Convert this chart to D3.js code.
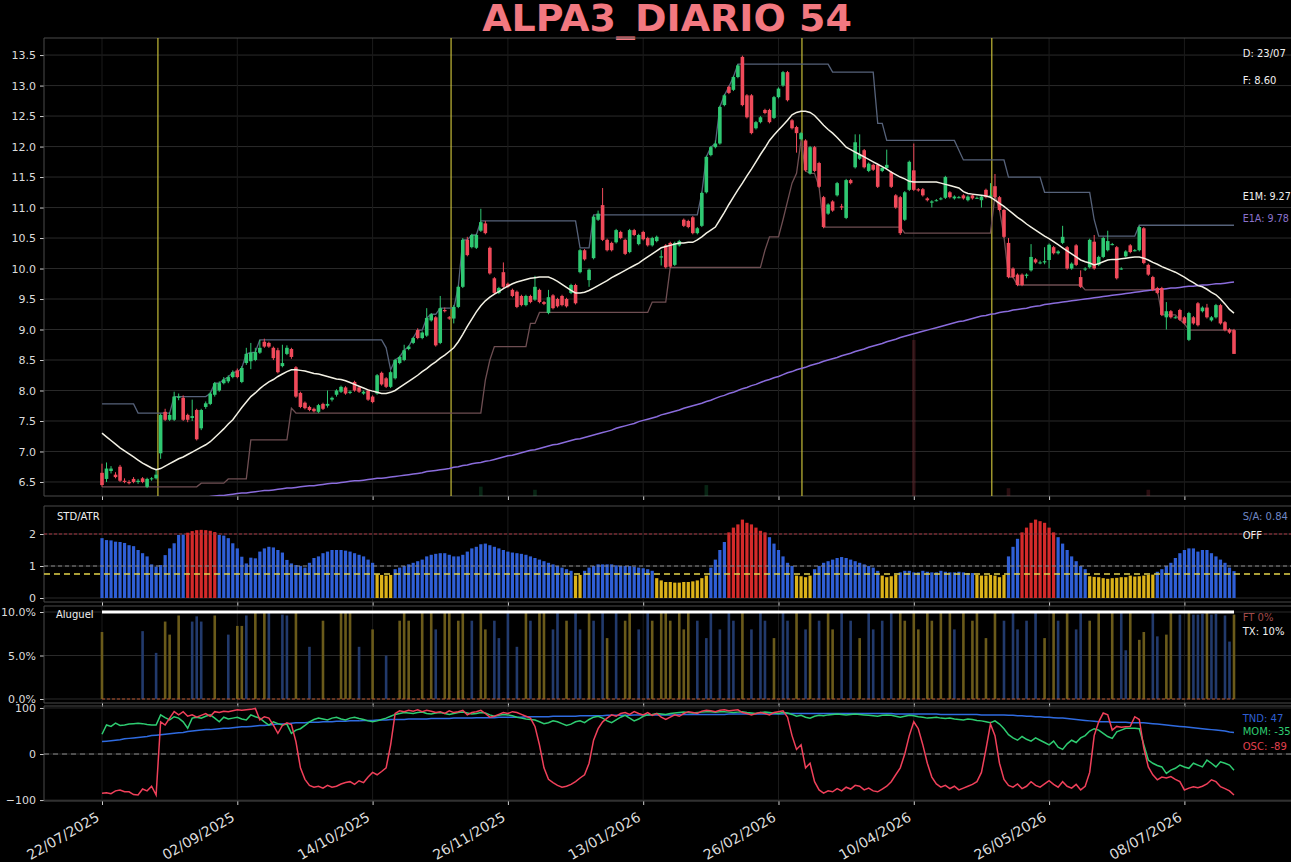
<!DOCTYPE html>
<html>
<head>
<meta charset="utf-8">
<script src="https://cdn.jsdelivr.net/npm/d3@7"></script>
<style>
  body { margin: 0; background: #000; }
  svg { display: block; font-family: "DejaVu Sans", sans-serif; }
</style>
</head>
<body>
<svg id="chart"></svg>
<script>
const width = 1291;
const height = 862;

// ---------- data ----------
const titulo = "ALPA3_DIARIO 54";
const tickIdx = [0, 30, 60, 90, 120, 150, 180, 210, 240];
const tickDatas = ["22/07/2025", "02/09/2025", "14/10/2025", "26/11/2025", "13/01/2026",
                   "26/02/2026", "10/04/2026", "26/05/2026", "08/07/2026"];
const eventos = [12.4, 77.4, 155.2, 197.3];

const opens = [
  6.65,6.55,6.68,6.62,6.75,6.52,6.50,6.55,6.50,6.56,
  6.42,6.55,6.56,6.97,7.65,7.52,7.52,7.88,7.88,7.60,
  7.55,7.68,7.38,7.73,7.78,7.93,8.00,8.12,8.15,8.22,
  8.33,8.14,8.45,8.48,8.50,8.62,8.80,8.78,8.70,8.66,
  8.40,8.60,8.68,8.38,7.96,7.80,7.73,7.70,7.65,7.78,
  7.75,7.85,7.93,7.98,8.05,7.96,8.14,8.05,7.95,8.00,
  7.90,7.95,8.29,8.20,8.06,8.20,8.45,8.50,8.68,8.78,
  8.99,8.86,8.90,9.15,9.20,8.78,9.32,9.20,9.18,9.37,
  9.70,10.47,10.35,10.34,10.62,10.74,10.34,9.84,9.60,9.94,
  9.75,9.65,9.62,9.55,9.40,9.55,9.49,9.65,9.45,9.27,
  9.56,9.50,9.55,9.50,9.60,9.73,9.94,10.30,9.81,10.17,
  10.80,11.04,10.47,10.42,10.43,10.60,10.47,10.27,10.63,10.40,
  10.60,10.50,10.38,10.45,10.18,10.38,10.42,10.06,10.38,10.80,
  10.78,10.84,10.58,10.70,11.25,11.86,11.99,12.05,12.68,12.98,
  12.93,13.14,13.47,12.84,12.84,12.30,12.40,12.60,12.60,12.47,
  12.81,13.00,13.22,12.43,12.32,12.12,12.10,11.56,11.99,11.73,
  11.17,10.90,11.10,11.20,11.02,10.83,11.45,11.66,11.80,11.94,
  11.60,11.70,11.70,11.60,11.65,11.58,11.20,11.17,10.80,11.29,
  11.61,11.30,11.30,11.15,11.08,11.12,11.14,11.16,11.25,11.15,
  11.17,11.20,11.12,11.20,11.15,11.12,11.29,11.18,11.35,11.17,
  10.96,10.42,10.00,9.90,9.90,9.88,9.97,10.15,10.10,10.10,
  10.14,10.35,10.25,10.42,10.35,10.00,10.38,9.86,10.00,10.02,
  10.44,10.06,10.19,10.30,10.40,10.35,10.00,10.20,10.38,10.30,
  10.30,10.66,10.06,9.86,9.68,9.68,9.20,9.30,9.20,9.32,
  9.20,8.83,9.20,9.43,9.30,9.36,9.15,9.20,9.40,9.12,
  9.00,8.99
];
const highs = [
  6.80,6.82,6.76,6.66,6.78,6.56,6.53,6.58,6.55,6.58,
  6.57,6.58,6.70,7.62,7.70,7.64,7.98,7.95,7.92,7.62,
  7.85,7.70,7.70,7.82,7.98,8.14,8.15,8.22,8.25,8.33,
  8.36,8.40,8.70,8.78,8.70,8.83,8.85,8.80,8.72,8.70,
  8.75,8.74,8.70,8.40,7.98,7.82,7.75,7.72,7.78,7.80,
  8.00,7.90,8.02,8.08,8.07,8.00,8.16,8.07,8.00,8.02,
  7.92,8.27,8.31,8.22,8.32,8.52,8.57,8.75,8.74,8.88,
  9.02,8.97,9.35,9.27,9.22,9.55,9.36,9.22,9.40,9.72,
  10.50,10.52,10.57,10.57,10.98,10.78,10.36,9.86,9.70,10.10,
  9.77,9.67,9.64,9.57,9.57,9.57,9.88,9.67,9.47,9.65,
  9.58,9.52,9.57,9.52,9.75,9.75,10.32,10.32,10.00,10.87,
  10.95,11.32,10.49,10.44,10.65,10.62,10.49,10.65,10.65,10.57,
  10.62,10.52,10.52,10.54,10.30,10.40,10.44,10.44,10.47,10.82,
  10.80,10.86,10.68,11.26,11.85,12.01,12.10,12.67,12.86,13.00,
  13.16,13.35,13.49,12.86,12.86,12.42,12.50,12.62,12.62,12.83,
  12.97,13.24,13.24,12.45,12.34,12.24,12.12,12.01,12.01,11.75,
  11.19,11.07,11.12,11.42,11.06,11.47,11.47,12.20,12.20,11.96,
  11.74,11.72,11.72,11.67,11.95,11.60,11.22,11.19,11.27,11.77,
  12.05,11.32,11.32,11.17,11.12,11.14,11.17,11.52,11.27,11.20,
  11.19,11.22,11.20,11.22,11.18,11.20,11.31,11.40,11.55,11.19,
  10.98,10.50,10.02,9.92,9.92,9.92,10.40,10.17,10.13,10.35,
  10.41,10.37,10.30,10.70,10.37,10.10,10.40,9.97,10.02,10.49,
  10.55,10.21,10.52,10.62,10.42,10.37,10.02,10.30,10.40,10.32,
  10.70,10.68,10.08,9.88,9.70,9.70,9.45,9.32,9.22,9.34,
  9.22,9.29,9.22,9.45,9.38,9.42,9.22,9.42,9.42,9.14,
  9.02,9.01
];
const lows = [
  6.42,6.50,6.64,6.56,6.50,6.48,6.46,6.48,6.47,6.48,
  6.40,6.52,6.54,6.88,7.50,7.50,7.50,7.84,7.50,7.48,
  7.50,7.18,7.35,7.70,7.76,7.90,7.98,8.10,8.12,8.20,
  8.20,8.12,8.42,8.35,8.48,8.60,8.70,8.70,8.50,8.28,
  8.38,8.58,8.52,7.88,7.71,7.69,7.66,7.64,7.63,7.68,
  7.72,7.82,7.90,7.96,7.93,7.94,7.98,7.96,7.93,7.83,
  7.79,7.93,8.08,8.04,8.04,8.18,8.43,8.48,8.66,8.76,
  8.84,8.84,8.88,9.13,8.72,8.76,9.28,9.16,9.10,9.35,
  9.68,10.20,10.33,10.32,10.60,10.56,9.90,9.58,9.58,9.68,
  9.68,9.53,9.35,9.38,9.38,9.43,9.47,9.43,9.40,9.25,
  9.33,9.36,9.38,9.36,9.58,9.41,9.92,10.13,9.70,10.15,
  10.78,10.45,10.28,10.28,10.41,10.48,10.22,10.25,10.53,10.38,
  10.46,10.36,10.36,10.43,10.05,10.00,10.01,10.04,10.36,10.68,
  10.66,10.56,10.56,10.68,11.23,11.84,11.97,12.03,12.66,12.86,
  12.91,13.12,12.66,12.46,12.20,12.28,12.38,12.53,12.38,12.45,
  12.79,12.98,12.74,12.28,11.90,12.10,11.59,11.54,11.58,11.32,
  10.66,10.88,10.93,11.18,10.96,10.81,11.38,11.64,11.78,11.64,
  11.58,11.60,11.32,11.58,11.63,11.32,10.98,10.55,10.78,11.27,
  11.27,11.26,11.18,11.10,11.00,11.10,11.12,11.14,11.15,11.13,
  11.15,11.13,11.10,11.13,11.14,11.00,11.15,11.15,11.15,10.94,
  10.50,9.84,9.84,9.71,9.71,9.84,9.95,10.08,10.07,10.07,
  10.00,10.23,10.23,10.40,9.98,9.98,10.04,9.68,9.96,10.00,
  9.98,10.04,10.17,10.28,10.38,9.82,9.98,10.18,10.25,10.28,
  10.28,10.07,9.88,9.63,9.58,9.22,9.00,9.18,9.18,9.14,
  9.08,8.81,9.08,9.05,9.28,9.18,9.13,9.18,9.08,8.97,
  8.93,8.60
];
const closes = [
  6.45,6.72,6.72,6.58,6.52,6.50,6.48,6.50,6.52,6.50,
  6.55,6.56,6.62,7.60,7.52,7.60,7.90,7.90,7.52,7.52,
  7.58,7.20,7.68,7.79,7.95,8.12,8.12,8.18,8.22,8.30,
  8.22,8.37,8.60,8.62,8.63,8.70,8.72,8.72,8.53,8.30,
  8.45,8.70,8.55,7.90,7.73,7.71,7.68,7.66,7.76,7.70,
  7.78,7.88,8.00,8.06,7.95,7.98,8.00,7.98,7.98,7.85,
  7.81,8.25,8.10,8.06,8.30,8.50,8.55,8.66,8.72,8.86,
  8.86,8.95,9.19,9.25,8.74,9.35,9.30,9.18,9.37,9.70,
  10.47,10.22,10.55,10.55,10.76,10.58,9.92,9.60,9.68,9.70,
  9.70,9.55,9.37,9.40,9.55,9.45,9.70,9.45,9.42,9.53,
  9.35,9.38,9.40,9.38,9.73,9.43,10.30,10.15,9.98,10.85,
  10.90,10.47,10.30,10.30,10.63,10.50,10.24,10.63,10.55,10.55,
  10.48,10.38,10.50,10.52,10.20,10.02,10.03,10.42,10.45,10.70,
  10.68,10.58,10.66,11.24,11.83,11.99,12.05,12.65,12.84,12.88,
  13.14,13.33,12.68,12.48,12.22,12.40,12.48,12.55,12.40,12.81,
  12.95,13.22,12.76,12.30,12.22,12.22,11.61,11.99,11.60,11.34,
  10.68,11.05,10.95,11.40,11.00,11.45,11.40,12.07,11.86,11.66,
  11.72,11.62,11.34,11.65,11.70,11.34,11.00,10.58,11.25,11.75,
  11.29,11.28,11.20,11.12,11.10,11.12,11.15,11.50,11.17,11.18,
  11.17,11.15,11.18,11.15,11.16,11.18,11.17,11.20,11.17,10.96,
  10.52,9.86,9.86,9.73,9.73,9.90,10.19,10.10,10.10,10.12,
  10.39,10.25,10.28,10.52,10.00,10.08,10.06,9.70,10.00,10.47,
  10.00,10.19,10.50,10.45,10.40,9.84,10.00,10.28,10.27,10.30,
  10.68,10.09,9.90,9.65,9.60,9.24,9.30,9.20,9.20,9.16,
  9.10,9.27,9.10,9.07,9.36,9.20,9.20,9.40,9.10,8.99,
  8.95,8.60
];

// E1M (white) and E1A (purple) moving averages
const e1m = [
  7.30,7.24,7.18,7.12,7.06,7.01,6.96,6.91,6.86,6.81,
  6.77,6.73,6.70,6.72,6.76,6.80,6.84,6.88,6.91,6.95,
  6.99,7.03,7.07,7.11,7.16,7.23,7.30,7.37,7.45,7.52,
  7.62,7.72,7.81,7.90,7.96,8.03,8.09,8.14,8.18,8.23,
  8.27,8.31,8.34,8.34,8.33,8.32,8.30,8.28,8.27,8.25,
  8.23,8.21,8.19,8.18,8.16,8.13,8.10,8.07,8.04,8.01,
  7.99,7.97,7.95,7.95,7.97,8.00,8.05,8.10,8.15,8.20,
  8.25,8.31,8.36,8.42,8.47,8.53,8.58,8.64,8.70,8.80,
  8.92,9.05,9.17,9.29,9.39,9.47,9.53,9.58,9.62,9.67,
  9.71,9.75,9.78,9.80,9.82,9.84,9.85,9.86,9.86,9.86,
  9.83,9.79,9.74,9.69,9.64,9.60,9.60,9.61,9.64,9.68,
  9.72,9.76,9.80,9.85,9.89,9.93,9.97,10.01,10.05,10.09,
  10.14,10.19,10.24,10.29,10.34,10.36,10.38,10.40,10.42,10.42,
  10.43,10.43,10.47,10.52,10.58,10.63,10.68,10.80,10.92,11.05,
  11.17,11.29,11.40,11.52,11.63,11.75,11.87,11.98,12.10,12.19,
  12.27,12.35,12.43,12.52,12.56,12.58,12.58,12.56,12.51,12.43,
  12.35,12.28,12.22,12.15,12.07,11.99,11.95,11.91,11.87,11.83,
  11.79,11.75,11.71,11.67,11.63,11.58,11.54,11.50,11.47,11.43,
  11.42,11.42,11.42,11.42,11.42,11.42,11.40,11.38,11.36,11.34,
  11.32,11.26,11.23,11.22,11.21,11.20,11.19,11.17,11.12,11.07,
  11.02,10.96,10.90,10.84,10.79,10.73,10.68,10.63,10.58,10.53,
  10.49,10.44,10.39,10.34,10.29,10.24,10.19,10.14,10.11,10.09,
  10.06,10.08,10.11,10.14,10.15,10.15,10.16,10.17,10.18,10.19,
  10.19,10.17,10.14,10.10,10.07,10.03,10.00,9.97,9.94,9.90,
  9.86,9.81,9.77,9.72,9.70,9.66,9.61,9.57,9.50,9.42,
  9.33,9.27
];
const e1a = [
  6.08,6.09,6.09,6.10,6.11,6.12,6.12,6.13,6.14,6.15,
  6.16,6.16,6.17,6.18,6.18,6.19,6.20,6.21,6.21,6.22,
  6.23,6.24,6.24,6.25,6.26,6.27,6.28,6.28,6.29,6.30,
  6.31,6.32,6.32,6.33,6.34,6.35,6.36,6.36,6.37,6.38,
  6.39,6.40,6.40,6.41,6.42,6.43,6.44,6.44,6.45,6.46,
  6.47,6.48,6.48,6.49,6.50,6.51,6.52,6.52,6.53,6.54,
  6.55,6.56,6.56,6.57,6.58,6.59,6.60,6.61,6.62,6.63,
  6.64,6.65,6.67,6.68,6.69,6.70,6.71,6.72,6.74,6.75,
  6.77,6.78,6.80,6.81,6.82,6.84,6.85,6.87,6.89,6.91,
  6.93,6.94,6.96,6.98,7.00,7.02,7.03,7.05,7.07,7.09,
  7.11,7.12,7.14,7.16,7.18,7.20,7.21,7.23,7.25,7.27,
  7.29,7.31,7.33,7.35,7.38,7.40,7.42,7.44,7.46,7.49,
  7.51,7.53,7.55,7.57,7.60,7.62,7.64,7.66,7.68,7.71,
  7.73,7.75,7.77,7.79,7.82,7.84,7.87,7.90,7.92,7.95,
  7.97,8.00,8.03,8.05,8.08,8.10,8.13,8.16,8.18,8.21,
  8.23,8.26,8.29,8.31,8.34,8.36,8.38,8.41,8.43,8.45,
  8.48,8.50,8.52,8.54,8.57,8.59,8.61,8.64,8.66,8.68,
  8.71,8.73,8.75,8.77,8.80,8.82,8.84,8.87,8.89,8.91,
  8.93,8.95,8.97,8.99,9.01,9.03,9.05,9.07,9.09,9.11,
  9.13,9.14,9.16,9.18,9.20,9.22,9.23,9.25,9.26,9.28,
  9.29,9.30,9.32,9.33,9.34,9.35,9.37,9.38,9.39,9.41,
  9.42,9.43,9.44,9.45,9.46,9.47,9.48,9.49,9.50,9.51,
  9.52,9.53,9.54,9.55,9.56,9.57,9.58,9.59,9.60,9.61,
  9.62,9.63,9.64,9.65,9.66,9.66,9.67,9.68,9.68,9.69,
  9.70,9.71,9.71,9.72,9.73,9.73,9.74,9.75,9.75,9.76,
  9.77,9.78
];

// channel lines as [first bar, level]
const canalSup = [[0,7.78],[8,7.63],[16,7.90],[24,7.95],[25,8.12],[27,8.18],[28,8.22],[29,8.30],
  [31,8.37],[32,8.60],[33,8.62],[34,8.63],[35,8.83],[63,8.70],[64,8.34],[65,8.50],[66,8.55],
  [67,8.66],[68,8.72],[69,8.86],[70,8.99],[72,9.19],[73,9.25],[75,9.35],[79,9.70],[80,10.47],
  [82,10.55],[84,10.78],[106,10.34],[109,10.88],[133,11.24],[134,11.83],[135,11.99],[136,12.05],
  [137,12.65],[138,12.84],[139,12.98],[140,13.14],[141,13.35],[162,13.22],[172,12.38],[174,12.10],
  [190,11.94],[191,11.78],[201,11.50],[209,11.25],[220,10.80],[221,10.53],[230,10.71]];
const canalInf = [[0,6.42],[22,6.48],[28,6.55],[33,7.19],[42,7.71],[43,7.63],[85,8.17],[86,8.50],
  [87,8.72],[95,9.10],[97,9.28],[122,9.45],[126,10.02],[147,10.30],[148,10.52],[151,10.80],
  [152,11.10],[153,11.40],[154,11.56],[155,12.10],[156,11.60],[157,11.56],[159,11.34],[160,10.68],
  [178,10.58],[198,11.20],[199,10.96],[200,10.52],[201,9.86],[203,9.73],[218,9.65],[235,9.24],
  [239,9.16],[240,9.10],[241,8.99]];

// faint volume spikes at the foot of the price panel
const volIdx = [84, 96, 134, 180, 201, 232];
const volVal = [6, 4, 7, 100, 5, 4];

// STD/ATR panel
const stdAtr = [
  1.87,1.81,1.80,1.76,1.75,1.72,1.65,1.62,1.50,1.40,
  1.30,1.05,0.98,1.03,1.34,1.55,1.71,1.97,1.98,2.04,
  2.09,2.12,2.13,2.12,2.10,2.06,1.97,1.95,1.87,1.71,
  1.55,1.29,1.08,1.26,1.24,1.45,1.55,1.60,1.58,1.50,
  1.42,1.19,1.08,1.03,1.00,0.95,1.10,1.25,1.30,1.40,
  1.45,1.50,1.50,1.50,1.48,1.45,1.40,1.35,1.30,1.20,
  1.10,0.74,0.72,0.70,0.72,0.90,0.95,1.00,1.05,1.10,
  1.15,1.20,1.30,1.35,1.38,1.40,1.40,1.35,1.30,1.30,
  1.35,1.45,1.55,1.60,1.68,1.70,1.65,1.60,1.55,1.50,
  1.45,1.42,1.40,1.38,1.35,1.30,1.25,1.20,1.15,1.10,
  1.05,1.00,0.95,0.90,0.85,0.70,0.72,0.85,0.95,1.00,
  1.05,1.05,1.05,1.05,1.02,1.00,1.00,1.00,0.98,0.95,
  0.93,0.90,0.85,0.62,0.55,0.50,0.50,0.48,0.48,0.50,
  0.50,0.52,0.55,0.62,0.70,0.95,1.20,1.50,1.75,2.05,
  2.20,2.30,2.45,2.35,2.30,2.20,2.10,2.05,1.90,1.70,
  1.50,1.30,1.10,1.00,0.70,0.68,0.65,0.70,0.90,1.00,
  1.10,1.15,1.20,1.25,1.28,1.25,1.20,1.15,1.10,1.05,
  1.00,0.95,0.85,0.70,0.65,0.68,0.72,0.80,0.85,0.85,
  0.80,0.80,0.85,0.82,0.80,0.80,0.85,0.82,0.80,0.80,
  0.82,0.80,0.78,0.78,0.72,0.70,0.70,0.72,0.70,0.65,
  0.72,1.30,1.60,1.85,2.05,2.20,2.35,2.45,2.40,2.35,
  2.20,2.05,1.90,1.70,1.50,1.30,1.15,1.00,0.90,0.68,
  0.66,0.65,0.62,0.60,0.62,0.63,0.65,0.65,0.70,0.67,
  0.68,0.70,0.72,0.73,0.82,0.90,1.00,1.10,1.25,1.40,
  1.50,1.55,1.55,1.45,1.50,1.50,1.40,1.30,1.20,1.10,
  0.95,0.84
];
const stdLimites = [2, 1, 0.75];

// Aluguel panel: [bar, %, Y=yellow / B=blue]
const aluguel = [
  [0,7.7,"Y"],[9,7.8,"B"],[12,5.3,"B"],[14,8.9,"Y"],[15,7.4,"Y"],[17,9.6,"Y"],[20,8.9,"B"],
  [21,9.5,"B"],[22,8.9,"B"],[25,9.6,"Y"],[28,7.4,"B"],[30,8.4,"Y"],[31,8.4,"Y"],[32,9.6,"B"],
  [34,10,"Y"],[36,10,"Y"],[37,10,"B"],[40,9.7,"B"],[41,9.6,"B"],[43,10,"Y"],[46,6,"B"],
  [49,9,"Y"],[53,10,"Y"],[54,10,"Y"],[55,10,"Y"],[57,6,"B"],[60,8,"Y"],[63,5,"B"],[66,9,"Y"],
  [67,10,"Y"],[68,9,"Y"],[71,10,"Y"],[73,10,"Y"],[74,8,"B"],[76,10,"Y"],[77,10,"Y"],[79,9,"Y"],
  [80,10,"Y"],[82,9,"B"],[84,10,"Y"],[85,8,"Y"],[87,9,"B"],[88,7,"B"],[90,10,"B"],[92,6,"B"],
  [94,10,"Y"],[95,9,"B"],[97,10,"Y"],[98,10,"Y"],[100,8,"B"],[101,10,"B"],[103,9,"Y"],
  [105,10,"B"],[106,8,"B"],[108,10,"Y"],[109,9,"B"],[111,10,"B"],[112,7,"Y"],[114,10,"B"],
  [116,9,"Y"],[117,10,"Y"],[119,8,"B"],[121,10,"B"],[122,9,"Y"],[124,10,"Y"],[125,10,"Y"],
  [126,9,"Y"],[128,10,"Y"],[129,8,"Y"],[130,10,"Y"],[132,9,"B"],[134,7,"B"],[135,10,"B"],
  [137,8,"B"],[139,10,"B"],[140,9,"B"],[142,10,"Y"],[144,8,"B"],[146,10,"B"],[147,9,"B"],
  [149,7,"Y"],[151,10,"B"],[152,9,"B"],[154,10,"Y"],[156,8,"B"],[157,10,"Y"],[159,9,"B"],
  [161,10,"Y"],[162,8,"Y"],[164,10,"B"],[166,9,"B"],[168,7,"Y"],[170,10,"B"],[171,8,"B"],
  [173,9,"B"],[175,10,"B"],[177,10,"Y"],[178,9,"Y"],[180,10,"Y"],[181,8,"Y"],[183,10,"Y"],
  [184,9,"Y"],[186,10,"Y"],[188,10,"Y"],[189,8,"B"],[191,10,"Y"],[193,9,"Y"],[194,10,"Y"],
  [196,7,"Y"],[198,10,"Y"],[200,9,"B"],[202,10,"B"],[203,8,"B"],[205,9,"B"],[207,10,"B"],
  [209,7,"Y"],[211,10,"Y"],[212,9,"B"],[214,10,"Y"],[216,8,"B"],[217,10,"B"],[219,9,"Y"],
  [221,10,"Y"],[224,10,"Y"],[226,10,"B"],[227,5.6,"B"],[228,9.9,"Y"],[230,6.8,"Y"],[231,7.7,"Y"],
  [233,10,"B"],[234,7.2,"B"],[236,7.4,"Y"],[237,10,"Y"],[239,9.7,"B"],[241,10,"Y"],[242,9.7,"B"],
  [243,9.7,"B"],[244,9.8,"B"],[245,10,"Y"],[246,9.7,"B"],[247,9.8,"B"],[249,9.6,"B"],
  [250,6.6,"B"],[251,9.7,"Y"]
];
const taxaTX = 10;
const taxaFT = 0;

// oscillator panel
const tnd = [
  27,28,29,30,31,33,34,35,36,37,38,40,41,42,43,44,45,46,47,49,50,51,52,
  53,53,54,55,56,56,57,58,59,59,60,61,62,62,63,64,65,65,66,67,68,68,
  68,69,69,69,70,70,70,71,71,71,72,72,72,73,73,73,74,74,74,75,75,
  75,75,76,76,76,76,76,77,77,77,77,77,78,78,78,78,78,79,79,79,79,79,80,80,80,
  80,80,80,81,81,81,81,81,81,82,82,82,82,82,82,83,83,83,83,83,83,84,84,84,84,84,84,85,85,85,
  85,85,85,85,85,85,85,86,86,86,86,86,86,86,86,86,86,86,87,87,87,87,87,87,87,87,87,87,87,87,87,
  88,88,88,88,88,88,88,88,88,88,88,88,88,88,
  88,88,88,88,88,88,88,88,88,88,87,87,87,87,87,87,87,87,87,87,86,86,86,86,86,86,86,86,86,85,85,85,85,85,85,
  84,84,83,83,82,82,81,81,80,80,79,78,78,77,76,75,74,73,72,71,70,
  70,70,69,69,69,69,68,68,68,68,
  67,66,65,64,63,62,61,60,59,58,57,56,55,54,53,52,51,50,48,47
];
const mom = [
  43,63,60,67,62,63,65,66,67,66, 64,63,63,85,79,74,81,78,70,56,
  78,80,78,82,85,78,70,80,76,78, 80,76,74,85,81,78,70,63,70,66,
  63,65,45,52,55,62,70,75,78,76, 74,78,80,76,74,78,80,77,75,72,
  70,72,75,78,82,86,88,90,89,88, 90,91,88,87,89,90,88,86,88,90,
  91,89,87,88,90,89,85,82,84,86, 85,83,80,78,76,75,74,70,66,68,
  72,70,66,62,65,70,72,68,75,80, 82,78,72,68,74,80,84,78,72,76,
  82,85,86,88,87,86,88,89,90,91, 90,89,90,91,92,92,91,92,92,91,
  90,91,92,90,89,88,90,91,90,89, 88,90,89,86,82,84,80,78,82,84,
  83,85,86,87,86,85,86,87,86,85, 84,83,82,84,85,84,82,80,82,84,
  83,81,80,78,79,80,78,77,78,76, 75,74,76,75,73,72,70,68,72,65,
  55,42,35,30,38,32,28,35,30,25, 20,28,15,10,22,30,25,35,40,50,
  55,52,45,38,34,48,52,56,56,56, 55,20,-13,-20,-25,-28,-42,-35,-31,-24,
  -28,-31,-20,-24,-28,-13,-20,-28,-17,-20, -24,-35
];
const osc = [
  -85,-84,-86,-80,-78,-82,-82,-88,-89,-76, -80,-70,-89,70,63,78,92,85,92,82,
  85,80,84,88,82,92,90,93,92,94, 96,95,96,97,99,74,81,78,63,45,
  62,68,64,27,-30,-55,-68,-72,-70,-74, -68,-72,-70,-65,-62,-60,-66,-58,-62,-50,
  -40,-45,-38,-30,20,88,94,92,95,93, 96,92,95,93,90,92,88,94,90,92,
  95,85,90,92,95,88,80,82,86,90, 88,92,90,86,82,78,60,20,-30,-55,
  -62,-68,-72,-70,-66,-60,-52,-45,-20,30, 55,70,78,85,82,88,90,86,92,88,
  85,90,84,88,80,75,80,85,82,88, 92,90,88,93,95,94,92,95,96,94,
  95,96,90,88,85,88,90,88,85,90, 92,94,80,40,10,20,-30,-20,-60,-78,
  -85,-80,-82,-75,-80,-72,-76,-68,-70,-78, -74,-80,-82,-76,-70,-60,-45,-30,0,40,
  70,55,20,-20,-50,-65,-72,-68,-75,-70, -78,-74,-70,-66,-60,-40,10,65,40,-20,
  -55,-68,-72,-65,-75,-70,-60,-68,-72,-65, -58,-66,-72,-60,-70,-74,-66,-78,-70,-40,
  40,70,89,85,52,60,58,59,60,81, 75,13,-28,-45,-56,-50,-52,-49,-55,-60,
  -78,-74,-71,-73,-70,-65,-56,-60,-71,-75, -80,-89
];

// ---------- drawing ----------
const svg = d3.select("#chart").attr("width", width).attr("height", height);
svg.append("rect").attr("width", width).attr("height", height).attr("fill", "#000");

const left = 44, right = 1292;
const x = d3.scaleLinear().domain([-12.86, 263.86]).range([left, right]);

const pPrice = { top: 38, bottom: 496 };
const pStd = { top: 506, bottom: 602 };
const pAlug = { top: 606, bottom: 703 };
const pOsc = { top: 706, bottom: 801 };

const yPrice = d3.scaleLinear().domain([6.27, 13.78]).range([pPrice.bottom, pPrice.top]);
const yStd = d3.scaleLinear().domain([-0.125, 2.875]).range([pStd.bottom, pStd.top]);
const yAlug = d3.scaleLinear().domain([-0.46, 10.69]).range([pAlug.bottom, pAlug.top]);
const yOsc = d3.scaleLinear().domain([-102, 104.3]).range([pOsc.bottom, pOsc.top]);

const defs = svg.append("defs");
function clipFor(name, p) {
    defs.append("clipPath").attr("id", name)
        .append("rect").attr("x", left).attr("y", p.top)
        .attr("width", right - left).attr("height", p.bottom - p.top);
    return "url(#" + name + ")";
}

function drawFrame(p, y, ticks, fmt, showDates) {
    const g = svg.append("g");
    // grid
    g.selectAll(".hg").data(ticks).enter().append("line")
        .attr("x1", left).attr("x2", right)
        .attr("y1", d => y(d)).attr("y2", d => y(d))
        .attr("stroke", "#2a2a2a").attr("stroke-width", 1);
    g.selectAll(".vg").data(tickIdx).enter().append("line")
        .attr("x1", d => x(d)).attr("x2", d => x(d))
        .attr("y1", p.top).attr("y2", p.bottom)
        .attr("stroke", "#1b1b1b").attr("stroke-width", 1);
    // y axis
    const ay = g.append("g").attr("transform", "translate(" + left + ",0)")
        .call(d3.axisLeft(y).tickValues(ticks).tickFormat(fmt).tickSize(4).tickPadding(4));
    ay.select(".domain").remove();
    ay.selectAll("line").attr("stroke", "#cfcfcf");
    ay.selectAll("text").attr("fill", "#dcdcdc").attr("font-size", 11)
        .attr("font-family", "DejaVu Sans, sans-serif");
    // x ticks
    const ax = g.append("g").attr("transform", "translate(0," + p.bottom + ")")
        .call(d3.axisBottom(x).tickValues(tickIdx).tickSize(4)
            .tickFormat((d, i) => showDates ? tickDatas[i] : ""));
    ax.select(".domain").remove();
    ax.selectAll("line").attr("stroke", "#cfcfcf");
    if (showDates) {
        ax.selectAll("text")
            .attr("fill", "#dcdcdc").attr("font-size", 14)
            .attr("font-family", "DejaVu Sans, sans-serif")
            .attr("text-anchor", "end").attr("dy", null).attr("y", null)
            .attr("transform", "translate(-2,19) rotate(-30)");
    }
    // spines
    g.append("path")
        .attr("d", "M" + right + "," + p.top + "H" + left + "V" + p.bottom + "H" + right)
        .attr("fill", "none").attr("stroke", "#4a4a4a").attr("stroke-width", 1);
    return g;
}

function expandSteps(steps, n) {
    const out = [];
    let k = 0;
    for (let i = 0; i < n; i++) {
        while (k + 1 < steps.length && steps[k + 1][0] <= i) k++;
        out.push(steps[k][1]);
    }
    return out;
}

function label(txt, xx, yy, color, size) {
    svg.append("text").attr("x", xx).attr("y", yy).text(txt)
        .attr("fill", color).attr("font-size", size || 10)
        .attr("font-family", "DejaVu Sans, sans-serif");
}

// ---- title
svg.append("text")
    .attr("x", 667).attr("y", 31)
    .attr("text-anchor", "middle")
    .attr("font-family", "DejaVu Sans, sans-serif")
    .attr("font-weight", "bold").attr("font-size", 38)
    .attr("fill", "#f27880")
    .text(titulo);

// ---- price panel
drawFrame(pPrice, yPrice, d3.range(6.5, 13.51, 0.5), d3.format(".1f"), false);
const gP = svg.append("g").attr("clip-path", clipFor("clipPrice", pPrice));

const yVol = d3.scaleLinear().domain([0, 100]).range([pPrice.bottom, 340]);
gP.selectAll(".vol").data(volIdx).enter().append("rect")
    .attr("x", d => x(d) - 1.8).attr("width", 3.6)
    .attr("y", (d, k) => yVol(volVal[k]))
    .attr("height", (d, k) => pPrice.bottom - yVol(volVal[k]))
    .attr("fill", d => closes[d] >= opens[d] ? "#2ecc71" : "#f04c5c")
    .attr("opacity", 0.18);

gP.selectAll(".ev").data(eventos).enter().append("line")
    .attr("x1", d => x(d)).attr("x2", d => x(d))
    .attr("y1", pPrice.top).attr("y2", pPrice.bottom)
    .attr("stroke", "#d6cc3c").attr("stroke-width", 1.1);

const n = closes.length;
const lineP = d3.line().x((d, i) => x(i)).y(d => yPrice(d));
gP.append("path").datum(expandSteps(canalSup, n)).attr("d", lineP)
    .attr("fill", "none").attr("stroke", "#56627a").attr("stroke-width", 1.3);
gP.append("path").datum(expandSteps(canalInf, n)).attr("d", lineP)
    .attr("fill", "none").attr("stroke", "#6e4e52").attr("stroke-width", 1.3);
gP.append("path").datum(e1a).attr("d", lineP)
    .attr("fill", "none").attr("stroke", "#8a6cdc").attr("stroke-width", 1.5);

const candles = d3.range(n).map(i => ({ i: i, o: opens[i], h: highs[i], l: lows[i], c: closes[i] }));
const corVela = d => d.c >= d.o ? "#2fc872" : "#f04a5a";
gP.selectAll(".wick").data(candles).enter().append("line")
    .attr("x1", d => x(d.i)).attr("x2", d => x(d.i))
    .attr("y1", d => yPrice(d.h)).attr("y2", d => yPrice(d.l))
    .attr("stroke", corVela).attr("stroke-width", 1);
gP.selectAll(".body").data(candles).enter().append("rect")
    .attr("x", d => x(d.i) - 1.8).attr("width", 3.6)
    .attr("y", d => yPrice(Math.max(d.o, d.c)))
    .attr("height", d => Math.max(1, Math.abs(yPrice(d.o) - yPrice(d.c))))
    .attr("fill", corVela);

gP.append("path").datum(e1m).attr("d", lineP)
    .attr("fill", "none").attr("stroke", "#f3f1e4").attr("stroke-width", 1.5);

label("D: 23/07", 1242.7, 57, "#f0f0f0");
label("F: " + closes[n - 1].toFixed(2), 1242.7, 83.5, "#f0f0f0");
label("E1M: " + e1m[n - 1].toFixed(2), 1242.7, 199.5, "#f0f0f0", 9.6);
label("E1A: " + e1a[n - 1].toFixed(2), 1242.7, 221.7, "#8a72cc", 9.6);

// ---- STD/ATR panel
drawFrame(pStd, yStd, [0, 1, 2], d3.format("d"), false);
const gS = svg.append("g").attr("clip-path", clipFor("clipStd", pStd));
gS.selectAll(".sb").data(stdAtr).enter().append("rect")
    .attr("x", (d, i) => x(i) - 1.6).attr("width", 3.2)
    .attr("y", d => yStd(d)).attr("height", d => yStd(0) - yStd(d))
    .attr("fill", d => d >= stdLimites[0] ? "#d42a2a" : (d < stdLimites[2] ? "#dcb21a" : "#2f5fd6"));
const limStyle = [["#a8323f", "3,2", 1], ["#8a8a8a", "4,3", 1], ["#e2d24a", "6,4", 1.5]];
gS.selectAll(".lim").data(stdLimites).enter().append("line")
    .attr("x1", left).attr("x2", right)
    .attr("y1", d => yStd(d)).attr("y2", d => yStd(d))
    .attr("stroke", (d, k) => limStyle[k][0])
    .attr("stroke-dasharray", (d, k) => limStyle[k][1])
    .attr("stroke-width", (d, k) => limStyle[k][2]);
label("STD/ATR", 57, 520, "#f0f0f0");
label("S/A: " + stdAtr[n - 1].toFixed(2), 1242.7, 520, "#6f86c4");
label("OFF", 1242.7, 538.5, "#f0f0f0");

// ---- Aluguel panel
drawFrame(pAlug, yAlug, [0, 5, 10], d => d.toFixed(1) + "%", false);
const gA = svg.append("g").attr("clip-path", clipFor("clipAlug", pAlug));
gA.selectAll(".ab").data(aluguel).enter().append("rect")
    .attr("x", d => x(d[0]) - 1.3).attr("width", 2.6)
    .attr("y", d => yAlug(d[1])).attr("height", d => yAlug(0) - yAlug(d[1]))
    .attr("fill", d => d[2] === "Y" ? "#6a5a1a" : "#223a6c");
gA.append("line")
    .attr("x1", x(0)).attr("x2", x(n - 1))
    .attr("y1", yAlug(taxaFT)).attr("y2", yAlug(taxaFT))
    .attr("stroke", "#b8542c").attr("stroke-width", 1.2).attr("stroke-dasharray", "3,2");
gA.append("line")
    .attr("x1", x(0)).attr("x2", x(n - 1))
    .attr("y1", yAlug(taxaTX)).attr("y2", yAlug(taxaTX))
    .attr("stroke", "#ffffff").attr("stroke-width", 3);
label("Aluguel", 56, 617.5, "#f0f0f0");
label("FT  " + taxaFT + "%", 1242.7, 620.5, "#a04a4a");
label("TX: " + taxaTX + "%", 1242.7, 635, "#f0f0f0");

// ---- oscillator panel
drawFrame(pOsc, yOsc, [-100, 0, 100], d3.format("d"), true);
const gO = svg.append("g").attr("clip-path", clipFor("clipOsc", pOsc));
gO.append("line")
    .attr("x1", left).attr("x2", right)
    .attr("y1", yOsc(0)).attr("y2", yOsc(0))
    .attr("stroke", "#8a8a8a").attr("stroke-dasharray", "5,4").attr("stroke-width", 1);
const lineO = d3.line().x((d, i) => x(i)).y(d => yOsc(d));
const series = [[tnd, "#2f6be0", "TND"], [mom, "#2ecc71", "MOM"], [osc, "#f0405a", "OSC"]];
series.forEach(s => {
    gO.append("path").datum(s[0]).attr("d", lineO)
        .attr("fill", "none").attr("stroke", s[1]).attr("stroke-width", 1.5);
});
label("TND: " + tnd[n - 1], 1242.7, 721.5, "#2f5fd0");
label("MOM: " + mom[n - 1], 1242.7, 735, "#2ecc71");
label("OSC: " + osc[n - 1], 1242.7, 750, "#e0404f");
</script>
</body>
</html>
